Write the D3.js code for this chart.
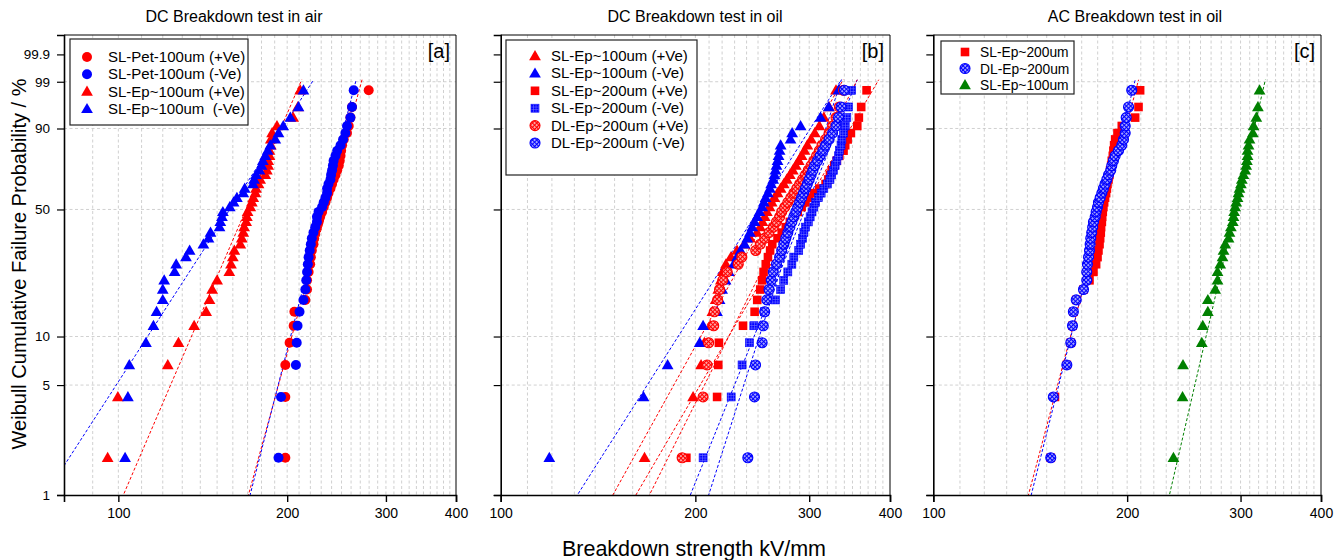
<!DOCTYPE html>
<html>
<head>
<meta charset="utf-8">
<script src="https://cdn.jsdelivr.net/npm/d3@7/dist/d3.min.js"></script>
<style>
  body { margin: 0; background: #fff; }
  svg text { font-family: "Liberation Sans", Arial, sans-serif; fill: #000; }
</style>
</head>
<body>
<svg id="chart" width="1344" height="560"></svg>
<script>
// median-rank failure probabilities (%), 40 samples per series
const failureProb = [1.73, 4.21, 6.68, 9.16, 11.63, 14.11, 16.58, 19.06, 21.53, 24.01,
  26.49, 28.96, 31.44, 33.91, 36.39, 38.86, 41.34, 43.81, 46.29, 48.76,
  51.24, 53.71, 56.19, 58.66, 61.14, 63.61, 66.09, 68.56, 71.04, 73.51,
  75.99, 78.47, 80.94, 83.42, 85.89, 88.37, 90.84, 93.32, 95.79, 98.27];

const yTickValues = [99.9, 99, 90, 50, 10, 5, 1];
const yTickLabels = ['99.9', '99', '90', '50', '10', '5', '1'];
const xTickValues = [100, 200, 300, 400];

// [a] DC in air
const aPetPos = [198.5, 198.5, 198.5, 202, 205.4, 206, 215.5, 217, 217, 218.4,
  219.8, 220.4, 221.3, 222.8, 223.4, 224.4, 226, 227.5, 229, 230.8,
  232.4, 234, 235.6, 237, 238.9, 240.5, 242, 243.9, 245.6, 247.2,
  248.2, 249, 249.6, 250.6, 252.3, 255.7, 257.5, 259.3, 261, 279.5];
const aPetNeg = [193, 195, 207.3, 208, 208.7, 210.4, 213.8, 215.5, 216.3, 217,
  217.7, 218.4, 219.4, 220.4, 221.3, 222.8, 224.4, 226, 226, 227.5,
  230.8, 232.4, 234, 235.6, 235.6, 237, 238.9, 239.5, 240.5, 241.3,
  242, 243.9, 245.6, 249, 251.6, 254, 255.7, 259.3, 261, 262.8];
const aEpPos = [95.7, 99.8, 122.5, 128, 136.5, 143.4, 145.4, 147, 150, 157.7,
  158.8, 160, 161, 165, 166, 167, 167.6, 169, 169.5, 170,
  171.9, 173, 174, 175.5, 176, 177.8, 179, 182.8, 184, 185,
  185, 186, 186, 187, 187, 188, 191.8, 205, 209, 211];
const aEpNeg = [102.8, 104, 104.6, 112, 115.5, 117, 120, 120, 120.7, 126,
  126.8, 132, 134, 141.8, 144.8, 146, 151.5, 152, 153, 153.6,
  158, 160.5, 162.7, 167, 168, 173.8, 174.6, 176, 178.5, 180,
  181, 182.8, 184.6, 186.6, 190.5, 193, 196.8, 202.6, 209.5, 213.8];
const aFitAlpha = [241.7, 237.8, 176.4, 168.7];
const aFitBeta = [13.2, 14.14, 8.41, 5.585];

// [b] DC in oil
const bEp100Pos = [166.9, 198.4, 204.1, 206.5, 211, 212.5, 215, 217, 219, 220.5,
  223, 227, 232, 238, 243, 249, 252, 254, 256, 258,
  260.5, 262.5, 265, 268, 271, 274, 277, 280, 283, 286,
  289, 292, 295, 298, 302, 306, 311, 316, 322, 330];
const bEp100Neg = [118.9, 166.3, 181.2, 203.1, 205.6, 216, 218, 220, 222.7, 225.3,
  229.3, 232, 234.9, 238.3, 240.6, 242.9, 244.9, 246.9, 249.2, 251.3,
  253.7, 255.2, 256.8, 258.9, 260.8, 262, 263.9, 265.1, 266, 267,
  268, 269, 270, 271, 280.7, 282.3, 290.9, 312.4, 321.6, 333];
const bSl200Pos = [193.7, 216.1, 217, 217.5, 237, 247, 249.3, 252, 253.7, 255,
  257, 259, 261, 263, 268, 272, 276, 280, 284, 288,
  292, 296, 300, 305, 311, 318, 321, 323, 325, 328,
  331, 334, 339, 341, 344, 348, 356, 358, 361, 368];
const bSl200Neg = [205.6, 227.2, 236.2, 242.5, 246.3, 255.8, 266, 271, 274, 278,
  282, 284, 289, 291, 293, 294.4, 296, 299, 301, 303,
  305, 307, 310, 313, 316, 320, 323, 325, 327, 329,
  331, 333, 334, 336, 337, 339, 341, 343, 345, 349];
const bDl200Pos = [190.8, 205.6, 208.5, 209.7, 213.5, 214, 216.5, 218, 220.5, 224,
  233, 236, 248, 252, 256, 260, 264, 267, 270, 272,
  275, 278, 281, 284, 287, 290, 293, 296, 299, 302,
  305, 308, 311, 314, 318, 322, 326, 330, 334, 339];
const bDl200Neg = [241.1, 246.9, 247.8, 253.7, 254.7, 256, 258, 260, 262, 264,
  267, 270, 272, 274, 276, 278, 280, 282, 284, 286,
  288, 290, 292, 294, 296, 298, 300, 302, 304, 306,
  309, 312, 315, 318, 322, 326, 330, 333, 336, 340];
const bFitAlpha = [275.1, 265.2, 308.8, 306.3, 295.2, 298.5];
const bFitBeta = [7.51, 6.55, 7.12, 10.36, 8.32, 13.03];

// [c] AC in oil
const cSl200 = [152.2, 154.5, 161.2, 163.5, 164.5, 165.1, 166.7, 171.1, 174.8, 177.3,
  179, 179.9, 180.5, 181.2, 181.6, 182, 182.2, 182.7, 182.9, 183.3,
  183.7, 184.2, 184.8, 185.5, 186, 186.4, 187.1, 187.7, 188.2, 188.9,
  189.3, 190, 190.4, 190.9, 191.6, 193.2, 196.2, 205.8, 208.3, 209.5];
const cDl200 = [152.2, 153.6, 161.2, 163.5, 164.5, 165, 166.7, 171.1, 173.1, 173.1,
  173.5, 174.2, 174.8, 175.2, 175.6, 176.2, 176.8, 177.3, 178.4, 179,
  179.9, 180.5, 181.6, 182.7, 183.7, 184.8, 186, 187.1, 188.6, 189.3,
  190.4, 191.6, 193.9, 196.2, 197.4, 198.6, 198.6, 199.3, 201, 203.3];
const cEp100 = [236, 243.8, 244.2, 261.2, 262.1, 266.9, 266.9, 274, 276.3, 276.3,
  279, 281.3, 282.3, 284, 287.4, 288.4, 289.8, 291.8, 292.5, 293.2,
  294.3, 295.4, 296.8, 297.8, 298.9, 300.4, 301.4, 303.1, 305, 306.1,
  306.9, 307.6, 307.6, 308.7, 309.8, 313.5, 314.3, 317.4, 319.2, 321.1];
const cFitAlpha = [188.6, 187.4, 300.6];
const cFitBeta = [15.63, 16.55, 17.95];

const RED = '#ff0000', BLUE = '#0000ff', GREEN = '#008000';
const fitProbRange = [0.01, 99.13];

const panels = [
  {
    id: 'a', title: 'DC Breakdown test in air', titleX: 234, left: 64, right: 456,
    xDomain: [80, 400], yLabels: true,
    legend: { x: 70, y: 39, w: 178, h: 86, first: 18, step: 17.3, mx: 17, tx: 38, font: 15 },
    series: [
      { name: 'SL-Pet-100um (+Ve)', values: aPetPos, color: RED, shape: 'circle', a: aFitAlpha[0], b: aFitBeta[0] },
      { name: 'SL-Pet-100um (-Ve)', values: aPetNeg, color: BLUE, shape: 'circle', a: aFitAlpha[1], b: aFitBeta[1] },
      { name: 'SL-Ep~100um (+Ve)', values: aEpPos, color: RED, shape: 'triangle', a: aFitAlpha[2], b: aFitBeta[2] },
      { name: 'SL-Ep~100um  (-Ve)', values: aEpNeg, color: BLUE, shape: 'triangle', a: aFitAlpha[3], b: aFitBeta[3] }
    ]
  },
  {
    id: 'b', title: 'DC Breakdown test in oil', titleX: 695, left: 500.7, right: 890,
    xDomain: [100, 400], yLabels: false,
    legend: { x: 506, y: 40, w: 191, h: 135, first: 16, step: 17.4, mx: 29, tx: 45, font: 15 },
    series: [
      { name: 'SL-Ep~100um (+Ve)', values: bEp100Pos, color: RED, shape: 'triangle', a: bFitAlpha[0], b: bFitBeta[0] },
      { name: 'SL-Ep~100um (-Ve)', values: bEp100Neg, color: BLUE, shape: 'triangle', a: bFitAlpha[1], b: bFitBeta[1] },
      { name: 'SL-Ep~200um (+Ve)', values: bSl200Pos, color: RED, shape: 'square', a: bFitAlpha[2], b: bFitBeta[2] },
      { name: 'SL-Ep~200um (-Ve)', values: bSl200Neg, color: BLUE, shape: 'gridsquare', a: bFitAlpha[3], b: bFitBeta[3] },
      { name: 'DL-Ep~200um (+Ve)', values: bDl200Pos, color: RED, shape: 'hatch', a: bFitAlpha[4], b: bFitBeta[4] },
      { name: 'DL-Ep~200um (-Ve)', values: bDl200Neg, color: BLUE, shape: 'hatch', a: bFitAlpha[5], b: bFitBeta[5] }
    ]
  },
  {
    id: 'c', title: 'AC Breakdown test in oil', titleX: 1135, left: 933.3, right: 1321,
    xDomain: [100, 400], yLabels: false,
    legend: { x: 941, y: 41, w: 133, h: 53, first: 11, step: 16.5, mx: 24, tx: 39, font: 13.8 },
    series: [
      { name: 'SL-Ep~200um', values: cSl200, color: RED, shape: 'square', a: cFitAlpha[0], b: cFitBeta[0] },
      { name: 'DL-Ep~200um', values: cDl200, color: BLUE, shape: 'hatch', a: cFitAlpha[1], b: cFitBeta[1] },
      { name: 'SL-Ep~100um', values: cEp100, color: GREEN, shape: 'triangle', a: cFitAlpha[2], b: cFitBeta[2] }
    ]
  }
];

const plotTop = 35, plotBottom = 495;
const wb = (p) => Math.log(-Math.log(1 - p / 100));
const y = d3.scaleLinear().domain([wb(1), wb(99.99)]).range([plotBottom, plotTop]);

const svg = d3.select('#chart');
const defs = svg.append('defs');

function hatchPattern(id, color) {
  const p = defs.append('pattern').attr('id', id)
    .attr('width', 3).attr('height', 3)
    .attr('patternUnits', 'userSpaceOnUse')
    .attr('patternTransform', 'rotate(45)');
  p.append('rect').attr('width', 3).attr('height', 3).attr('fill', '#fff');
  p.append('path').attr('d', 'M1.5,0V3M0,1.5H3').attr('stroke', color).attr('stroke-width', 1.3);
}
hatchPattern('hatch-red', RED);
hatchPattern('hatch-blue', BLUE);

const gp = defs.append('pattern').attr('id', 'grid-blue')
  .attr('width', 2.6).attr('height', 2.6).attr('patternUnits', 'userSpaceOnUse');
gp.append('rect').attr('width', 2.6).attr('height', 2.6).attr('fill', BLUE);
gp.append('path').attr('d', 'M0,0.3H2.6M0.3,0V2.6').attr('stroke', '#7a7aff').attr('stroke-width', 0.6);

function marker(g, shape, color, cx, cy) {
  if (shape === 'circle') {
    g.append('circle').attr('cx', cx).attr('cy', cy).attr('r', 5).attr('fill', color);
  } else if (shape === 'triangle') {
    g.append('path').attr('d', d3.symbol(d3.symbolTriangle, 60)())
      .attr('transform', `translate(${cx},${cy + 0.8})`).attr('fill', color);
  } else if (shape === 'square') {
    g.append('rect').attr('x', cx - 4.3).attr('y', cy - 4.3).attr('width', 8.6).attr('height', 8.6).attr('fill', color);
  } else if (shape === 'gridsquare') {
    g.append('rect').attr('x', cx - 4).attr('y', cy - 4).attr('width', 8).attr('height', 8)
      .attr('fill', 'url(#grid-blue)').attr('stroke', color).attr('stroke-width', 0.6);
  } else if (shape === 'hatch') {
    g.append('circle').attr('cx', cx).attr('cy', cy).attr('r', 5)
      .attr('fill', color === RED ? 'url(#hatch-red)' : 'url(#hatch-blue)')
      .attr('stroke', color).attr('stroke-width', 1.1);
  }
}

panels.forEach((p) => {
  const x = d3.scaleLog().domain(p.xDomain).range([p.left, p.right]);
  const g = svg.append('g');

  defs.append('clipPath').attr('id', 'clip-' + p.id)
    .append('rect').attr('x', p.left).attr('y', plotTop)
    .attr('width', p.right - p.left).attr('height', plotBottom - plotTop);

  // grid
  const minor = d3.range(p.xDomain[0] + 10, p.xDomain[1], 10);
  g.append('g').selectAll('line').data(minor).enter().append('line')
    .attr('x1', (d) => x(d)).attr('x2', (d) => x(d))
    .attr('y1', plotTop).attr('y2', plotBottom)
    .attr('stroke', '#c4c4c4').attr('stroke-width', 0.8).attr('stroke-dasharray', '3,2.5');
  g.append('g').selectAll('line').data(yTickValues.filter((d) => d !== 1 && d !== 99.9)).enter().append('line')
    .attr('x1', p.left).attr('x2', p.right)
    .attr('y1', (d) => y(wb(d))).attr('y2', (d) => y(wb(d)))
    .attr('stroke', '#c4c4c4').attr('stroke-width', 0.8).attr('stroke-dasharray', '3,2.5');

  // Weibull fit lines
  const fitG = g.append('g').attr('clip-path', `url(#clip-${p.id})`);
  p.series.forEach((s) => {
    const pts = fitProbRange.map((q) => [x(s.a * Math.exp(wb(q) / s.b)), y(wb(q))]);
    fitG.append('path').attr('d', d3.line()(pts))
      .attr('fill', 'none').attr('stroke', s.color).attr('stroke-width', 1)
      .attr('stroke-dasharray', '3,2');
  });

  // data points
  p.series.forEach((s) => {
    const sg = g.append('g');
    s.values.forEach((v, i) => marker(sg, s.shape, s.color, x(v), y(wb(failureProb[i]))));
  });

  // frame
  g.append('line').attr('x1', p.left).attr('x2', p.right).attr('y1', plotTop).attr('y2', plotTop)
    .attr('stroke', '#000').attr('stroke-width', 1);
  g.append('line').attr('x1', p.right).attr('x2', p.right).attr('y1', plotTop).attr('y2', plotBottom)
    .attr('stroke', '#000').attr('stroke-width', 1);

  const xAxis = d3.axisBottom(x).tickValues(xTickValues).tickSize(7).tickPadding(6).tickFormat(d3.format('d'));
  const xg = g.append('g').attr('transform', `translate(0,${plotBottom})`).call(xAxis);
  xg.select('.domain').attr('stroke-width', 1.6);
  xg.selectAll('.tick line').attr('stroke-width', 1.4);
  xg.selectAll('text').attr('font-size', 14).style('font-family', '"Liberation Sans", Arial, sans-serif');

  const yAxis = d3.axisLeft(y).tickValues(yTickValues.map(wb)).tickSize(7).tickPadding(7)
    .tickFormat((d, i) => (p.yLabels ? yTickLabels[i] : ''));
  const yg = g.append('g').attr('transform', `translate(${p.left},0)`).call(yAxis);
  yg.select('.domain').attr('stroke-width', 1.6);
  yg.selectAll('.tick line').attr('stroke-width', 1.2);
  yg.selectAll('text').attr('font-size', 13.5).style('font-family', '"Liberation Sans", Arial, sans-serif');

  // title and panel tag
  svg.append('text').attr('x', p.titleX).attr('y', 22).attr('text-anchor', 'middle')
    .attr('font-size', 16).text(p.title);
  svg.append('text').attr('x', p.right - 6).attr('y', 58).attr('text-anchor', 'end')
    .attr('font-size', 20).text('[' + p.id + ']');

  // legend
  const L = p.legend;
  const lg = svg.append('g');
  lg.append('rect').attr('x', L.x).attr('y', L.y).attr('width', L.w).attr('height', L.h)
    .attr('fill', '#fff').attr('stroke', '#222').attr('stroke-width', 1.2);
  p.series.forEach((s, i) => {
    const ly = L.y + L.first + i * L.step;
    marker(lg, s.shape, s.color, L.x + L.mx, ly);
    lg.append('text').attr('x', L.x + L.tx).attr('y', ly + 5)
      .attr('font-size', L.font).style('white-space', 'pre').text(s.name);
  });
});

svg.append('text')
  .attr('transform', 'translate(26,264) rotate(-90)')
  .attr('text-anchor', 'middle').attr('font-size', 20)
  .text('Weibull Cumulative Failure Probability / %');

svg.append('text').attr('x', 694).attr('y', 556).attr('text-anchor', 'middle')
  .attr('font-size', 21.5).text('Breakdown strength kV/mm');
</script>
</body>
</html>
